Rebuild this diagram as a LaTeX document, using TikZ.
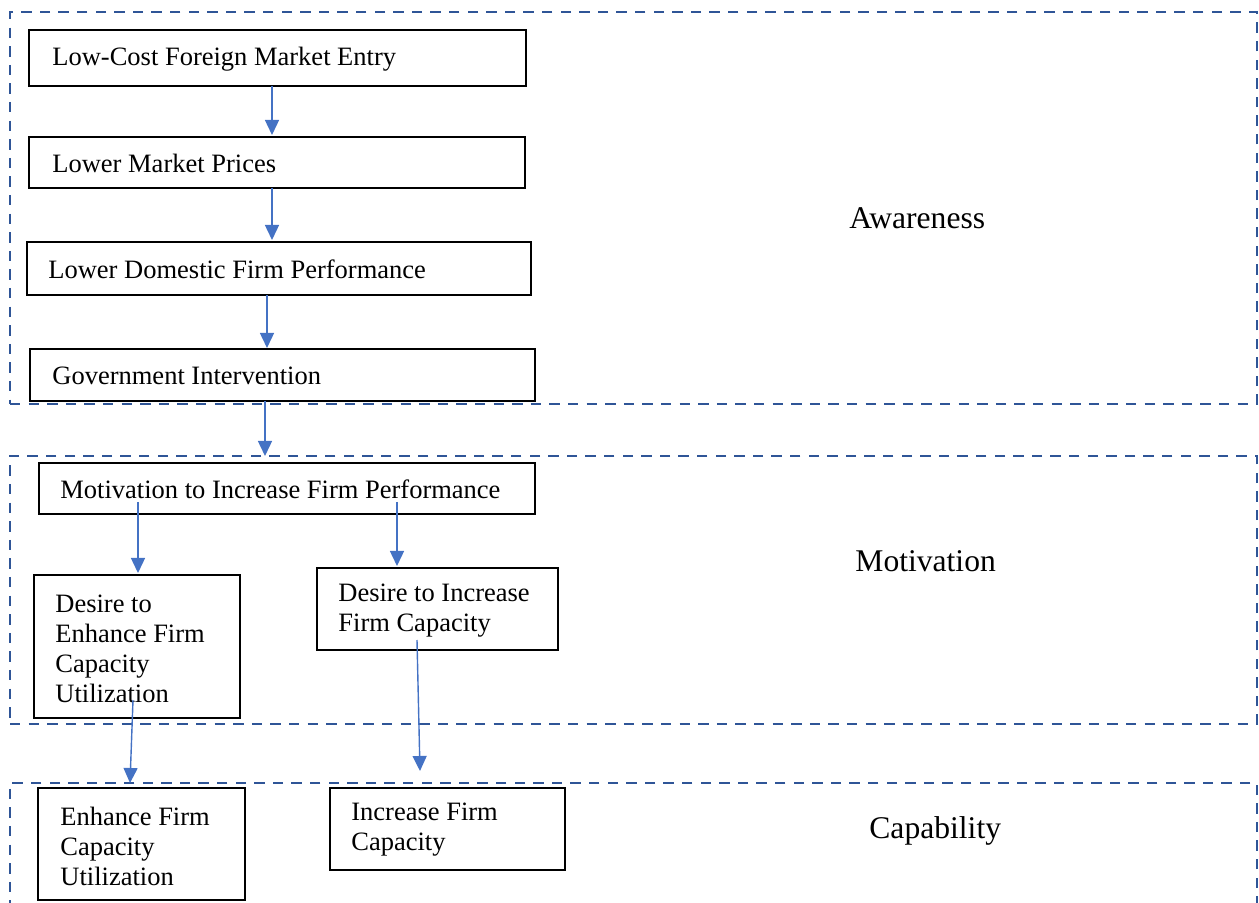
\documentclass[tikz,border=0pt]{standalone}
\usepackage{fontspec}
\setmainfont{Liberation Serif}
\usetikzlibrary{arrows.meta,calc}
\definecolor{framecol}{HTML}{2F5597}
\definecolor{arrowcol}{HTML}{4472C4}
\begin{document}
\begin{tikzpicture}[x=0.5pt,y=-0.5pt,
  frame/.style={draw=framecol,line width=1.15pt,dash pattern=on 5.2pt off 4.1pt,
    anchor=north west,inner sep=0pt,outer sep=0pt},
  stepbox/.style={draw=black,line width=0.9pt,anchor=north west,inner sep=0pt,
    outer sep=0pt},
  steptext/.style={anchor=west,inner sep=0pt,align=left,
    font=\fontsize{13.25}{15}\selectfont},
  stagelabel/.style={anchor=base west,inner sep=0pt,
    font=\fontsize{15.8}{18}\selectfont},
  arr/.style={draw=arrowcol,line width=0.7pt,
    -{Triangle[width=7pt,length=7.5pt]}}]
\useasboundingbox (0,0) rectangle (1259,903);
\clip (0,0) rectangle (1259,903);

% stage frames
\node[frame,minimum width=623.5pt,minimum height=196pt] (fA) at (10,12) {};
\node[frame,minimum width=623.5pt,minimum height=134pt] (fM) at (10,456) {};
\node[frame,minimum width=623.5pt,minimum height=80pt] (fC) at (10,783) {};

% stage labels
\node[stagelabel] (lA) at (849,229) {Awareness};
\node[stagelabel] (lM) at (855,572) {Motivation};
\node[stagelabel] (lC) at (869,838) {Capability};

% awareness chain
\node[stepbox,minimum width=248.5pt,minimum height=28pt] (b1) at (29,30) {};
\node[steptext] (t1) at ($(b1.west)+(23,1)$) {Low-Cost Foreign Market Entry};

\node[stepbox,minimum width=248pt,minimum height=25.5pt] (b2) at (29,137) {};
\node[steptext] (t2) at ($(b2.west)+(23,1)$) {Lower Market Prices};

\node[stepbox,minimum width=252pt,minimum height=26.5pt] (b3) at (27,242) {};
\node[steptext] (t3) at ($(b3.west)+(21,1)$) {Lower Domestic Firm Performance};

\node[stepbox,minimum width=252.5pt,minimum height=26pt] (b4) at (30,349) {};
\node[steptext] (t4) at ($(b4.west)+(22,1)$) {Government Intervention};

% motivation stage
\node[stepbox,minimum width=248pt,minimum height=25.5pt] (b5) at (39,463) {};
\node[steptext] (t5) at ($(b5.west)+(21,1)$) {Motivation to Increase Firm Performance};

\node[stepbox,minimum width=103pt,minimum height=71.5pt] (b6) at (34,575) {};
\node[steptext] (t6) at ($(b6.west)+(21,2)$) {Desire to\\Enhance Firm\\Capacity\\Utilization};

\node[stepbox,minimum width=120.5pt,minimum height=41pt] (b7) at (317,568) {};
\node[steptext] (t7) at ($(b7.west)+(21,2)$) {Desire to Increase\\Firm Capacity};

% capability stage
\node[stepbox,minimum width=103.5pt,minimum height=56pt] (b8) at (38,788) {};
\node[steptext] (t8) at ($(b8.west)+(22,2)$) {Enhance Firm\\Capacity\\Utilization};

\node[stepbox,minimum width=117.5pt,minimum height=41pt] (b9) at (330,788) {};
\node[steptext] (t9) at ($(b9.west)+(21,1)$) {Increase Firm\\Capacity};

% connectors
\draw[arr] (b1.south -| 272,0) -- ($(b2.north -| 272,0)+(0,-2)$);
\draw[arr] (b2.south -| 272,0) -- ($(b3.north -| 272,0)+(0,-2)$);
\draw[arr] (b3.south -| 267,0) -- ($(b4.north -| 267,0)+(0,-1)$);
\draw[arr] (b4.south -| 265,0) -- (fM.north -| 265,0);
\draw[arr] ($(b5.south -| 138,0)+(0,-12)$) -- ($(b6.north -| 138,0)+(0,-2)$);
\draw[arr] ($(b5.south -| 397,0)+(0,-12)$) -- ($(b7.north -| 397,0)+(0,-2)$);
\draw[arr] ($(b6.south -| 133,0)+(0,-18)$) -- (fC.north -| 130,0);
\draw[arr] ($(b7.south -| 417,0)+(0,-10)$) -- ($(fC.north -| 420,0)+(0,-12)$);
\end{tikzpicture}
\end{document}
